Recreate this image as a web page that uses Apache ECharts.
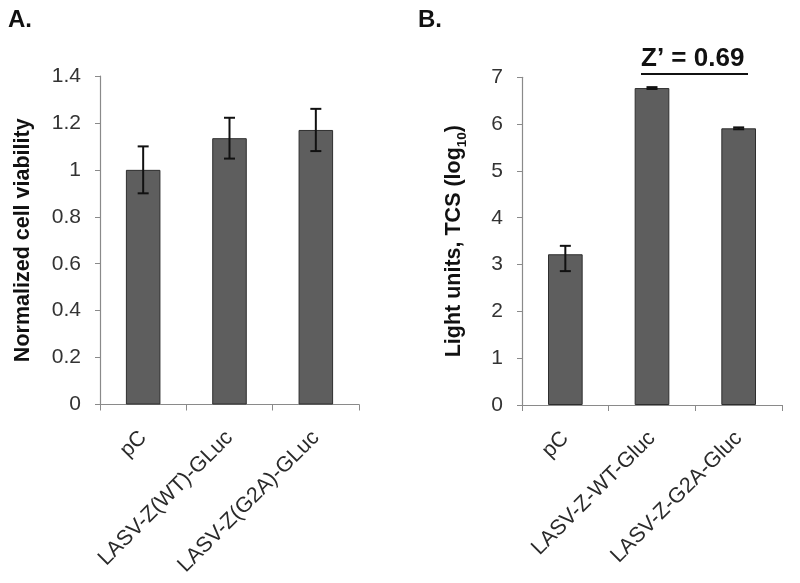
<!DOCTYPE html>
<html>
<head>
<meta charset="utf-8">
<script src="https://cdn.jsdelivr.net/npm/echarts@6/dist/echarts.min.js"></script>
<style>html,body{margin:0;padding:0;background:#fff}#c{width:800px;height:583px}</style>
</head>
<body>
<div id="c"></div>
<script>
var catsA = ['pC', 'LASV-Z(WT)-GLuc', 'LASV-Z(G2A)-GLuc'];
var valsA = [1.00, 1.135, 1.17];
var errUpA = [0.10, 0.087, 0.09];
var errDnA = [0.10, 0.087, 0.09];

var catsB = ['pC', 'LASV-Z-WT-Gluc', 'LASV-Z-G2A-Gluc'];
var valsB = [3.22, 6.77, 5.91];
var errUpB = [0.18, 0.02, 0.02];
var errDnB = [0.36, 0.02, 0.02];

var FONT = '"Liberation Sans", Arial, Helvetica, sans-serif';

function errData(vals, up, dn) {
  return vals.map(function (v, i) { return [i, v - dn[i], v + up[i]]; });
}
function errRender(params, api) {
  var x = api.value(0);
  var pLo = api.coord([x, api.value(1)]);
  var pHi = api.coord([x, api.value(2)]);
  var hw = 5.5;
  var st = { stroke: '#111', lineWidth: 2 };
  return { type: 'group', children: [
    { type: 'line', shape: { x1: pHi[0], y1: pHi[1], x2: pLo[0], y2: pLo[1] }, style: st },
    { type: 'line', shape: { x1: pHi[0] - hw, y1: pHi[1], x2: pHi[0] + hw, y2: pHi[1] }, style: st },
    { type: 'line', shape: { x1: pLo[0] - hw, y1: pLo[1], x2: pLo[0] + hw, y2: pLo[1] }, style: st }
  ]};
}

function xAx(cats, gi) {
  return {
    type: 'category', gridIndex: gi, data: cats,
    axisLine: { lineStyle: { color: '#8a8a8a', width: 1.2 } },
    axisTick: { show: true, length: 6, lineStyle: { color: '#8a8a8a' } },
    axisLabel: { rotate: 45, margin: 30, fontSize: 21.5, color: '#2a2a2a', fontFamily: FONT, interval: 0 }
  };
}
function yAx(gi, max, interval, name, gap) {
  return {
    type: 'value', gridIndex: gi, min: 0, max: max, interval: interval,
    splitLine: { show: false },
    axisLine: { show: true, lineStyle: { color: '#8a8a8a', width: 1.2 } },
    axisTick: { show: true, length: 5, lineStyle: { color: '#8a8a8a' } },
    axisLabel: { margin: 19, fontSize: 21, color: '#333', fontFamily: FONT },
    name: name, nameLocation: 'middle', nameGap: gap,
    nameTextStyle: { fontSize: 21.5, fontWeight: 'bold', color: '#111', fontFamily: FONT,
      rich: { sub: { fontSize: 13.5, fontWeight: 'bold', color: '#111', fontFamily: FONT, verticalAlign: 'bottom', padding: [0, 0, -4, 0] } } }
  };
}
var barStyle = { color: '#5e5e5e', borderColor: '#2e2e2e', borderWidth: 1 };

var chart = echarts.init(document.getElementById('c'));
chart.setOption({
  animation: false,
  backgroundColor: '#fff',
  grid: [
    { left: 100, top: 76, width: 259, height: 328.5 },
    { left: 522, top: 77.3, width: 260, height: 327.7 }
  ],
  xAxis: [xAx(catsA, 0), xAx(catsB, 1)],
  yAxis: [
    yAx(0, 1.4, 0.2, 'Normalized cell viability', 66),
    yAx(1, 7, 1, 'Light units, TCS (log{sub|10})', 57)
  ],
  series: [
    { type: 'bar', xAxisIndex: 0, yAxisIndex: 0, data: valsA, barWidth: '40%', itemStyle: barStyle },
    { type: 'custom', xAxisIndex: 0, yAxisIndex: 0, data: errData(valsA, errUpA, errDnA), renderItem: errRender, encode: { x: 0, y: [1, 2] }, z: 5 },
    { type: 'bar', xAxisIndex: 1, yAxisIndex: 1, data: valsB, barWidth: '40%', itemStyle: barStyle },
    { type: 'custom', xAxisIndex: 1, yAxisIndex: 1, data: errData(valsB, errUpB, errDnB), renderItem: errRender, encode: { x: 0, y: [1, 2] }, z: 5 }
  ],
  graphic: [
    { type: 'text', left: 8, top: 8, style: { text: 'A.', font: 'bold 24px ' + FONT, fill: '#111' } },
    { type: 'text', left: 418, top: 8, style: { text: 'B.', font: 'bold 24px ' + FONT, fill: '#111' } },
    { type: 'text', left: 641, top: 46, style: { text: 'Z\u2019 = 0.69', font: 'bold 26px ' + FONT, fill: '#111' } },
    { type: 'line', shape: { x1: 641, y1: 74, x2: 748, y2: 74 }, style: { stroke: '#111', lineWidth: 2 } }
  ]
});
</script>
</body>
</html>
